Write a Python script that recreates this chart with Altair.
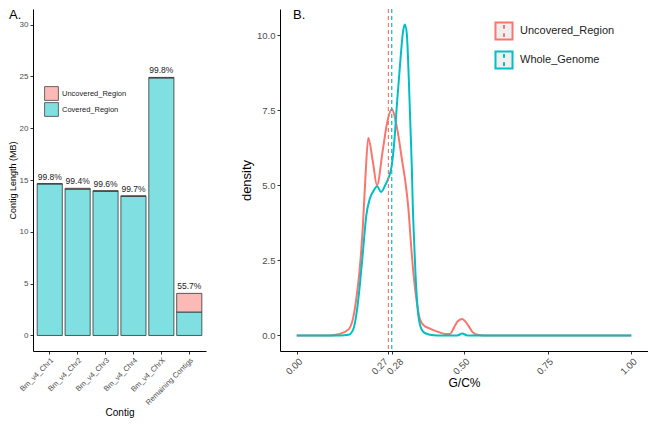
import altair as alt
import pandas as pd

# ---------------- Panel A data ----------------
contigs = ["Bm_v4_Chr1", "Bm_v4_Chr2", "Bm_v4_Chr3", "Bm_v4_Chr4", "Bm_v4_ChrX", "Remaining Contigs"]
contig_len = [14.65, 14.20, 13.97, 13.47, 24.90, 4.06]
covered_pct = [99.8, 99.4, 99.6, 99.7, 99.8, 55.7]
pct_labels = ["99.8%", "99.4%", "99.6%", "99.7%", "99.8%", "55.7%"]
regions = ["Uncovered_Region", "Covered_Region"]
region_colors = ["#FBBAB6", "#80DFE1"]

# ---------------- Panel B data ----------------
groups = ["Uncovered_Region", "Whole_Genome"]
group_colors = ["#F8766D", "#00BFC4"]
unc_x = [0.0, 0.10, 0.125, 0.155, 0.169, 0.179, 0.189, 0.198, 0.205, 0.214, 0.227, 0.240,
         0.257, 0.271, 0.284, 0.300, 0.315, 0.325, 0.334, 0.341, 0.349, 0.359, 0.368,
         0.380, 0.400, 0.427, 0.445, 0.458, 0.470, 0.482, 0.495, 0.505, 0.514, 0.525,
         0.540, 0.560, 1.0]
unc_y = [0.0, 0.0, 0.04, 0.2, 0.6, 1.3, 2.3, 3.7, 5.2, 6.59, 5.83, 5.0,
         6.16, 7.13, 7.54, 6.9, 5.83, 5.1, 4.2, 3.13, 2.05, 1.1, 0.55,
         0.33, 0.22, 0.1, 0.05, 0.05, 0.26, 0.48, 0.55, 0.45, 0.31, 0.12,
         0.02, 0.0, 0.0]
whole_x = [0.0, 0.13, 0.155, 0.169, 0.179, 0.189, 0.198, 0.208, 0.218, 0.232, 0.240,
           0.252, 0.263, 0.276, 0.283, 0.291, 0.300, 0.310, 0.317, 0.323, 0.329,
           0.334, 0.339, 0.344, 0.347, 0.351, 0.355, 0.361, 0.368, 0.380, 0.398,
           0.420, 0.480, 0.495, 0.510, 1.0]
whole_y = [0.0, 0.0, 0.02, 0.2, 0.75, 1.72, 2.8, 4.0, 4.54, 4.86, 4.97,
           4.78, 4.97, 5.3, 5.6, 6.37, 7.78, 9.19, 10.06, 10.36, 10.06,
           8.86, 7.24, 5.62, 4.3, 3.13, 2.05, 0.96, 0.37, 0.1, 0.02,
           0.0, 0.0, 0.06, 0.0, 0.0]
mean_gc = [0.274, 0.284]
gc_ticks = [0.0, 0.274, 0.284, 0.5, 0.75, 1.0]
panel_tags = ["A.", "B."]

FONT = "Liberation Sans"

# ---------- build tables ----------
rows = []
for c, L, p in zip(contigs, contig_len, covered_pct):
    cov = L * p / 100.0
    rows.append({"contig": c, "region": "Covered_Region", "start": 0.0, "end": cov})
    rows.append({"contig": c, "region": "Uncovered_Region", "start": cov, "end": L})
bars_df = pd.DataFrame(rows)
lab_df = pd.DataFrame({"contig": contigs, "total": contig_len, "label": pct_labels})

dens_df = pd.concat([
    pd.DataFrame({"gc": unc_x, "density": unc_y, "group": groups[0]}),
    pd.DataFrame({"gc": whole_x, "density": whole_y, "group": groups[1]}),
])
mean_df = pd.DataFrame({"gc": mean_gc, "group": groups})
tagA_df = pd.DataFrame({"tag": [panel_tags[0]]})
tagB_df = pd.DataFrame({"tag": [panel_tags[1]]})

# ---------- Panel A ----------
xA = alt.X("contig:N", sort=contigs, title="Contig",
           scale=alt.Scale(paddingInner=0.1, paddingOuter=0.15),
           axis=alt.Axis(labelAngle=-45, labelFontSize=7.5, titleFontSize=10,
                         titlePadding=1, labelPadding=2))
yA_scale = alt.Scale(domain=[-1.5, 31.5], nice=False, zero=False)

barsA = alt.Chart(bars_df).mark_bar(stroke="#333333", strokeWidth=0.8).encode(
    x=xA,
    y=alt.Y("start:Q", scale=yA_scale, title="Contig Length (MB)",
            axis=alt.Axis(values=[0, 5, 10, 15, 20, 25, 30], labelFontSize=8,
                          titleFontSize=9, titlePadding=2, labelPadding=2)),
    y2="end:Q",
    fill=alt.Fill("region:N", scale=alt.Scale(domain=regions, range=region_colors),
                  legend=alt.Legend(title=None, orient="none", legendX=11, legendY=77,
                                    symbolType="square", symbolSize=190,
                                    symbolStrokeColor="#444444", symbolStrokeWidth=0.8,
                                    labelFontSize=7.5, labelOffset=3, rowPadding=-4,
                                    symbolOpacity=1)),
)

textA = alt.Chart(lab_df).mark_text(baseline="bottom", dy=-2, fontSize=8.5,
                                    font=FONT, color="#222222").encode(
    x=alt.X("contig:N", sort=contigs), y=alt.Y("total:Q", scale=yA_scale), text="label:N")

tagA = alt.Chart(tagA_df).mark_text(align="left", baseline="middle", fontSize=13,
                                    fontWeight="normal", font=FONT, color="black").encode(
    x=alt.value(-24), y=alt.value(6), text="tag:N")

panelA = alt.layer(barsA, textA, tagA).properties(width=173, height=342)

# ---------- Panel B ----------
xB_scale = alt.Scale(domain=[-0.05, 1.05], nice=False, zero=False)
yB_scale = alt.Scale(domain=[-0.52, 10.88], nice=False, zero=False)
colB = alt.Scale(domain=groups, range=group_colors)

label_shift = {"condition": [{"test": "datum.value > 0.27 && datum.value < 0.28", "value": -6},
                             {"test": "datum.value > 0.28 && datum.value < 0.29", "value": 6}],
               "value": 0}

lines = alt.Chart(dens_df).mark_line(strokeWidth=2, interpolate="monotone").encode(
    x=alt.X("gc:Q", scale=xB_scale, title="G/C%",
            axis=alt.Axis(values=gc_ticks, format=".2f", labelAngle=-45, labelFontSize=9.5,
                          titleFontSize=12, titlePadding=2, labelPadding=2,
                          labelOverlap=False, labelFlush=False, labelBound=False,
                          labelOffset=label_shift)),
    y=alt.Y("density:Q", scale=yB_scale, title="density",
            axis=alt.Axis(values=[0, 2.5, 5, 7.5, 10], format=".1f", labelFontSize=9.5,
                          titleFontSize=13, titlePadding=3, labelPadding=2,
                          labelOverlap=False)),
    color=alt.Color("group:N", scale=colB,
                    legend=alt.Legend(title=None, orient="none", legendX=461, legendY=12,
                                      symbolType="M-1,-1H1V1H-1Z M0,-0.7V-0.25 M0,0.25V0.7",
                                      symbolSize=290, symbolStrokeWidth=2,
                                      symbolFillColor="#EFEFEF", labelFontSize=11,
                                      labelOffset=6, rowPadding=3)),
    detail="group:N",
)

rules = alt.Chart(mean_df).mark_rule(strokeDash=[4, 3], strokeWidth=1.2).encode(
    x=alt.X("gc:Q", scale=xB_scale),
    color=alt.Color("group:N", scale=colB, legend=None),
)

tagB = alt.Chart(tagB_df).mark_text(align="left", baseline="middle", fontSize=13,
                                    fontWeight="normal", font=FONT, color="black").encode(
    x=alt.value(13), y=alt.value(6), text="tag:N")

panelB = alt.layer(lines, rules, tagB).properties(width=368, height=342)

chart = alt.hconcat(panelA, panelB, spacing=34).properties(padding=0).configure_view(
    stroke=None
).configure_axis(
    grid=False, domainColor="black", domainWidth=1, tickColor="#333333", tickSize=3,
    labelColor="#4D4D4D", titleColor="black", labelFont=FONT, titleFont=FONT,
    titleFontWeight="normal"
).configure_legend(
    labelFont=FONT, labelColor="#222222"
).configure_text(font=FONT)

chart.save("out.html", embed_options={"renderer": "svg", "actions": False})
